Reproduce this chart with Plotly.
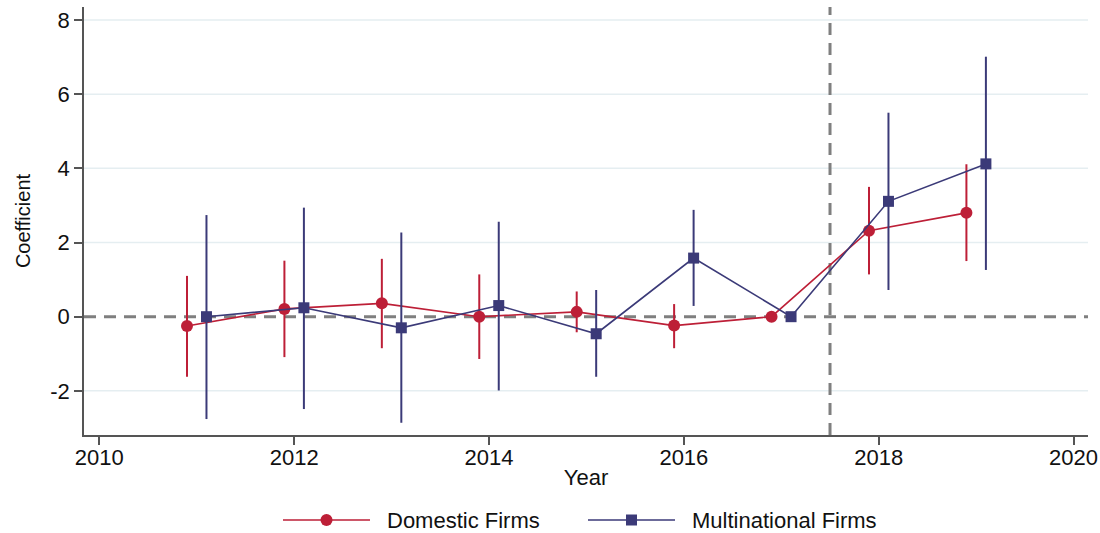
import plotly.graph_objects as go

# Event-study coefficients with 95% confidence intervals (2017 = reference year)
years = [2011, 2012, 2013, 2014, 2015, 2016, 2017, 2018, 2019]

domestic_coef = [-0.25, 0.21, 0.36, 0.00, 0.13, -0.24, 0.00, 2.32, 2.80]
domestic_lo = [-1.62, -1.09, -0.85, -1.14, -0.42, -0.85, 0.00, 1.14, 1.50]
domestic_hi = [1.10, 1.51, 1.56, 1.14, 0.68, 0.34, 0.00, 3.50, 4.11]

multi_coef = [0.00, 0.24, -0.30, 0.30, -0.46, 1.58, 0.00, 3.11, 4.12]
multi_lo = [-2.76, -2.49, -2.86, -1.99, -1.62, 0.29, 0.00, 0.72, 1.26]
multi_hi = [2.74, 2.94, 2.27, 2.56, 0.72, 2.88, 0.00, 5.50, 7.01]

y_ticks = [-2, 0, 2, 4, 6, 8]
y_tick_labels = ["-2", "0", "2", "4", "6", "8"]
grid_values = [-2, 2, 4, 6, 8]
x_ticks = [2010, 2012, 2014, 2016, 2018, 2020]
x_tick_labels = ["2010", "2012", "2014", "2016", "2018", "2020"]

treatment_break = 2017.5
series_names = ["Domestic Firms", "Multinational Firms"]

RED = "#bd1f37"
NAVY = "#3b3a78"
AXIS = "#555555"
GRID = "#e5eef1"
DASH = "#7f7f7f"
FONT = "Liberation Sans, Arial, sans-serif"

W, H = 1100, 533
ML, MR, MT, MB = 84, 12, 7, 98
offset = 0.1


def px_x(p):
    return (p - ML) / (W - ML - MR)


def px_y(p):
    return (H - MB - p) / (H - MT - MB)


fig = go.Figure()

for name, coef, lo, hi, shift, color, symbol, size in [
    (series_names[0], domestic_coef, domestic_lo, domestic_hi, -offset, RED, "circle", 12),
    (series_names[1], multi_coef, multi_lo, multi_hi, offset, NAVY, "square", 11),
]:
    fig.add_trace(go.Scatter(
        x=[yr + shift for yr in years],
        y=coef,
        mode="lines+markers",
        name=name,
        line=dict(color=color, width=1.6),
        marker=dict(color=color, symbol=symbol, size=size),
        error_y=dict(
            type="data",
            symmetric=False,
            array=[h - c for h, c in zip(hi, coef)],
            arrayminus=[c - l for c, l in zip(coef, lo)],
            color=color,
            thickness=2,
            width=0,
        ),
        showlegend=False,
    ))

# Light horizontal grid at every labelled value except the zero reference
shapes = [
    dict(type="line", xref="paper", yref="y", x0=0, x1=1, y0=g, y1=g,
         line=dict(color=GRID, width=1.5), layer="below")
    for g in grid_values
]
shapes += [
    dict(type="line", xref="paper", yref="y", x0=0, x1=1, y0=0, y1=0,
         line=dict(color=DASH, width=3, dash="12px,8px"), layer="below"),
    dict(type="line", xref="x", yref="paper", x0=treatment_break, x1=treatment_break,
         y0=0, y1=1, line=dict(color=DASH, width=3, dash="12px,8px"), layer="below"),
]

# Legend drawn below the axis title
legend_y = px_y(520)
legend_items = [
    (series_names[0], RED, "circle", 283, 370, 385),
    (series_names[1], NAVY, "square", 588, 675, 690),
]
annotations = []
for label, color, sym, x0p, x1p, txp in legend_items:
    shapes.append(dict(type="line", xref="paper", yref="paper",
                       x0=px_x(x0p), x1=px_x(x1p), y0=legend_y, y1=legend_y,
                       line=dict(color=color, width=1.6)))
    cx = px_x((x0p + x1p) / 2)
    half = 6 if sym == "circle" else 5.5
    shapes.append(dict(type="circle" if sym == "circle" else "rect",
                       xref="paper", yref="paper",
                       xsizemode="pixel", ysizemode="pixel",
                       xanchor=cx, yanchor=legend_y,
                       x0=-half, x1=half, y0=-half, y1=half,
                       fillcolor=color, line=dict(color=color, width=0)))
    annotations.append(dict(text=label, xref="paper", yref="paper",
                            x=px_x(txp), y=legend_y, xanchor="left", yanchor="middle",
                            showarrow=False, font=dict(size=22, color="#111111", family=FONT)))

fig.update_layout(
    width=W, height=H, autosize=False,
    margin=dict(l=ML, r=MR, t=MT, b=MB),
    paper_bgcolor="white", plot_bgcolor="white",
    font=dict(family=FONT, size=20, color="#111111"),
    shapes=shapes,
    annotations=annotations,
    xaxis=dict(
        range=[2009.843, 2020.148],
        tickvals=x_ticks, ticktext=x_tick_labels,
        automargin=False,
        showgrid=False, zeroline=False,
        showline=True, linecolor=AXIS, linewidth=1.5,
        ticks="outside", ticklen=8, tickwidth=1.5, tickcolor=AXIS,
        ticklabelstandoff=-6,
        tickfont=dict(size=22),
        title=dict(text="Year", font=dict(size=22), standoff=0),
    ),
    yaxis=dict(
        range=[-3.19, 8.35],
        tickvals=y_ticks, ticktext=y_tick_labels,
        automargin=False,
        showgrid=False, zeroline=False,
        showline=True, linecolor=AXIS, linewidth=1.5,
        ticks="outside", ticklen=8, tickwidth=1.5, tickcolor=AXIS,
        tickfont=dict(size=22),
        title=dict(text="Coefficient", font=dict(size=20), standoff=14),
    ),
)

fig.write_html("out.html")
